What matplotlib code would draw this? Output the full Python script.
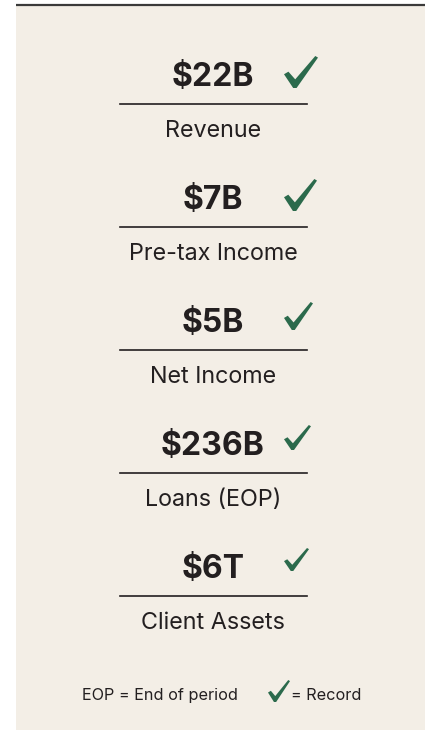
import matplotlib.pyplot as plt
from matplotlib.patches import Polygon, Rectangle

# --- DATA
values = ["$22B", "$7B", "$5B", "$236B", "$6T"]
labels = ["Revenue", "Pre-tax Income", "Net Income", "Loans (EOP)", "Client Assets"]
record = [True, True, True, True, True]
footnote = "EOP = End of period"
legend_text = "= Record"

# --- STYLE
bg = "#f3eee6"
ink = "#231f20"
green = "#2b6a4c"
check_w = [34, 33, 29, 27, 25]
check_h = [32, 32, 28, 25, 23]
row_gap = 123

plt.rcParams['font.family'] = ['Inter', 'DejaVu Sans']

# check mark shape, unit box, y pointing down
CHECK = [(0.0, 0.57), (0.13, 0.49), (0.33, 0.73), (0.92, 0.0), (1.0, 0.05),
         (0.37, 1.0), (0.27, 1.0)]


def draw_check(ax, x0, y0, w, h):
    pts = [(x0 + px * w, y0 + py * h) for px, py in CHECK]
    ax.add_patch(Polygon(pts, closed=True, color=green, lw=0))


fig = plt.figure(figsize=(4.29, 7.30), dpi=100)
ax = fig.add_axes([0, 0, 1, 1])
ax.set_xlim(0, 429)
ax.set_ylim(730, 0)
ax.axis('off')

# panel and top rule
ax.add_patch(Rectangle((16, 5), 409, 730, color=bg, lw=0))
ax.plot([16, 425], [4.5, 4.5], color="#3a3a3a", lw=1.6, solid_capstyle='butt')

for i, (val, lab) in enumerate(zip(values, labels)):
    off = i * row_gap
    ax.text(213, 86 + off, val, ha='center', va='baseline', fontsize=23,
            fontweight='bold', color=ink)
    ax.plot([120, 307], [104 + off, 104 + off], color=ink, lw=1.2)
    ax.text(213, 137 + off, lab, ha='center', va='baseline', fontsize=16.8,
            color=ink)
    if record[i]:
        draw_check(ax, 284, 56 + off, check_w[i], check_h[i])

# footer
ax.text(82, 700, footnote, ha='left', va='baseline', fontsize=11.7, color=ink)
draw_check(ax, 268, 680, 22, 22)
ax.text(291, 700, legend_text, ha='left', va='baseline', fontsize=11.7, color=ink)

fig.savefig("out.png", dpi=100, facecolor='white')
